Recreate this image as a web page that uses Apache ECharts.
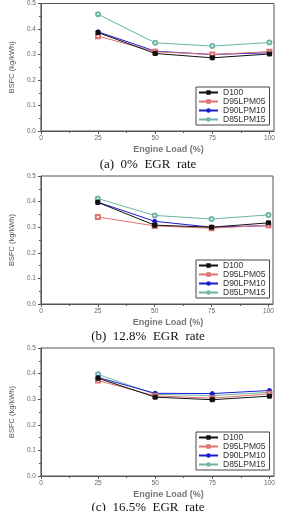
<!DOCTYPE html>
<html>
<head>
<meta charset="utf-8">
<script src="https://cdn.jsdelivr.net/npm/echarts@6/dist/echarts.min.js"></script>
<style>
html, body { margin: 0; padding: 0; background: #fff; }
#chart { width: 285px; height: 511px; }
</style>
</head>
<body>
<div id="chart"></div>
<script>
// Data
var loads = [25, 50, 75, 100];
var fuels = ['D100', 'D95LPM05', 'D90LPM10', 'D85LPM15'];
var captions = ['(a)  0%  EGR  rate', '(b)  12.8%  EGR  rate', '(c)  16.5%  EGR  rate'];

// (a) 0% EGR
var egr0_D100 = [0.386, 0.304, 0.287, 0.302];
var egr0_D95 = [0.372, 0.311, 0.300, 0.311];
var egr0_D90 = [0.389, 0.313, 0.300, 0.307];
var egr0_D85 = [0.458, 0.346, 0.333, 0.347];

// (b) 12.8% EGR
var egr128_D100 = [0.397, 0.308, 0.300, 0.317];
var egr128_D95 = [0.340, 0.305, 0.296, 0.308];
var egr128_D90 = [0.398, 0.323, 0.300, 0.306];
var egr128_D85 = [0.412, 0.346, 0.332, 0.348];

// (c) 16.5% EGR
var egr165_D100 = [0.382, 0.308, 0.298, 0.312];
var egr165_D95 = [0.373, 0.313, 0.304, 0.321];
var egr165_D90 = [0.385, 0.323, 0.322, 0.334];
var egr165_D85 = [0.397, 0.319, 0.314, 0.327];

var xTicks = [0, 25, 50, 75, 100];

var panels = [
    [egr0_D100, egr0_D95, egr0_D90, egr0_D85],
    [egr128_D100, egr128_D95, egr128_D90, egr128_D85],
    [egr165_D100, egr165_D95, egr165_D90, egr165_D85]
];

// Layout of the three plots
var gridTops = [3, 176, 348];
var plotH = 128;
var gridLefts = [33, 32, 33];
var plotW = 241;
var captionMid = [161, 333, 504];

var styles = [
    {color: '#111111', symbol: 'rect'},
    {color: '#e27070', symbol: 'emptyRect'},
    {color: '#1a1ad0', symbol: 'circle'},
    {color: '#6cb5a6', symbol: 'emptyCircle'}
];

var axisGray = '#555';
var font = 'Liberation Sans, Arial, sans-serif';

var grids = [], xAxes = [], yAxes = [], series = [], legends = [], titles = [];

panels.forEach(function(panel, p) {
    grids.push({
        left: gridLefts[p], top: gridTops[p], width: plotW, height: plotH,
        show: true, borderColor: axisGray, borderWidth: 1, backgroundColor: 'transparent'
    });

    xAxes.push({
        gridIndex: p, type: 'value', min: 0, max: 102, interval: 25,
        name: 'Engine Load (%)', nameLocation: 'middle', nameGap: 14,
        nameTextStyle: {color: '#777', fontSize: 9, fontWeight: 'bold', fontFamily: font, padding: [0, 0, 0, 22]},
        axisLine: {lineStyle: {color: axisGray, width: 1}},
        axisTick: {show: true, length: 3, customValues: xTicks, lineStyle: {color: axisGray}},
        minorTick: {show: true, splitNumber: 2, length: 2, lineStyle: {color: axisGray}},
        axisLabel: {customValues: xTicks, color: '#666', fontSize: 6.5, fontFamily: font, margin: 4},
        splitLine: {show: false}
    });

    yAxes.push({
        gridIndex: p, type: 'value', min: 0, max: 0.5, interval: 0.1,
        name: 'BSFC (kg/kWh)', nameLocation: 'middle', nameGap: 23,
        nameTextStyle: {color: '#555', fontSize: 7.5, fontFamily: font},
        axisLine: {show: true, lineStyle: {color: axisGray, width: 1}},
        axisTick: {show: true, length: 3, lineStyle: {color: axisGray}},
        minorTick: {show: true, splitNumber: 2, length: 2, lineStyle: {color: axisGray}},
        axisLabel: {color: '#666', fontSize: 6.5, fontFamily: font, margin: 5,
            formatter: function(v) { return v.toFixed(1); }},
        splitLine: {show: false}
    });

    panel.forEach(function(vals, i) {
        var st = styles[i];
        series.push({
            name: fuels[i], type: 'line',
            xAxisIndex: p, yAxisIndex: p,
            data: loads.map(function(x, k) { return [x, vals[k]]; }),
            symbol: st.symbol, symbolSize: 4, showAllSymbol: true,
            lineStyle: {color: st.color, width: 1},
            itemStyle: {color: st.color, borderColor: st.color, borderWidth: 1},
            z: 2 + (3 - i),
            animation: false
        });
    });

    legends.push({
        data: fuels, orient: 'vertical',
        left: 196, top: gridTops[p] + 84,
        padding: [1, 4, 1, 2],
        itemGap: 0, itemWidth: 19, itemHeight: 3,
        borderColor: '#444', borderWidth: 1, backgroundColor: '#fff',
        selectedMode: false,
        textStyle: {color: '#333', fontSize: 8.5, fontFamily: font, lineHeight: 8}
    });

    titles.push({
        text: captions[p], left: 143, textAlign: 'center',
        top: captionMid[p] - 8,
        textStyle: {color: '#111', fontSize: 13, fontWeight: 'normal', fontFamily: 'Liberation Serif, Times New Roman, serif'}
    });
});

var chart = echarts.init(document.getElementById('chart'));
chart.setOption({
    animation: false,
    title: titles,
    grid: grids,
    xAxis: xAxes,
    yAxis: yAxes,
    legend: legends,
    series: series
});
</script>
</body>
</html>
